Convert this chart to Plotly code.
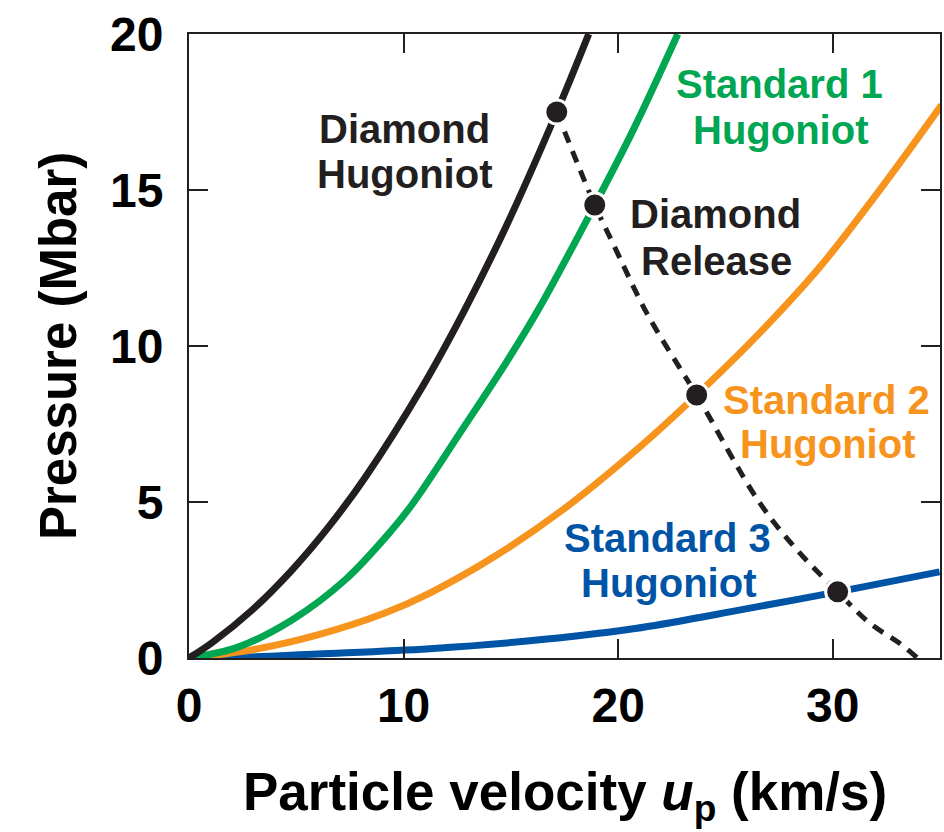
import plotly.graph_objects as go

# ---- data (up in km/s, P in Mbar) ----
dia_up = [0, 1.07, 2.93, 4.80, 6.47, 8.2, 10.9, 12.85, 14.81, 17.14, 18.63]
dia_P = [0, 0.49, 1.53, 2.82, 4.17, 5.78, 8.72, 11.16, 13.88, 17.5, 20.0]

std1_up = [0, 2.28, 4.8, 7.27, 9.45, 10.43, 12.76, 14.81, 16.35, 18.91, 20.7, 22.78]
std1_P = [0, 0.35, 1.22, 2.5, 4.10, 4.95, 7.35, 9.5, 11.25, 14.52, 16.92, 20.0]

std2_up = [0, 2.93, 6.0, 9.13, 11.22, 14.35, 17.42, 21.0, 23.66, 26.6, 29.4, 32.3, 35.07]
std2_P = [0, 0.26, 0.74, 1.44, 2.08, 3.3, 4.75, 6.76, 8.43, 10.42, 12.53, 15.1, 17.72]

std3_up = [0, 1.5, 6.0, 11.22, 15.88, 20.54, 23.8, 25.2, 30.23, 34.98]
std3_P = [0, 0.0, 0.13, 0.30, 0.55, 0.92, 1.30, 1.48, 2.12, 2.76]

rel_up = [17.14, 18.91, 19.75, 21.33, 22.87, 23.66, 26.6, 28.46, 30.23, 31.72, 33.1, 33.95]
rel_P = [17.5, 14.52, 13.3, 11.06, 9.3, 8.43, 4.97, 3.37, 2.12, 1.12, 0.48, 0.0]

pts_up = [17.14, 18.91, 23.66, 30.23]
pts_P = [17.5, 14.52, 8.43, 2.12]

x_ticks = [0, 10, 20, 30]
y_ticks = [0, 5, 10, 15, 20]

BLACK = "#231f20"
GREEN = "#00a651"
ORANGE = "#f7941d"
BLUE = "#0054a6"
FONT = "Liberation Sans, Arial, Helvetica, sans-serif"

fig = go.Figure()

def curve(x, y, color):
    fig.add_trace(go.Scatter(x=x, y=y, mode="lines",
                             line=dict(color=color, width=7, shape="spline", smoothing=1.0),
                             showlegend=False, hoverinfo="skip"))

curve(std3_up, std3_P, BLUE)
curve(std2_up, std2_P, ORANGE)
curve(std1_up, std1_P, GREEN)
curve(dia_up, dia_P, BLACK)

fig.add_trace(go.Scatter(x=rel_up, y=rel_P, mode="lines",
                         line=dict(color=BLACK, width=5, dash="12px,9px", shape="spline", smoothing=1.0),
                         showlegend=False, hoverinfo="skip"))

fig.add_trace(go.Scatter(x=pts_up, y=pts_P, mode="markers",
                         marker=dict(color=BLACK, size=24, line=dict(color="white", width=3)),
                         showlegend=False, hoverinfo="skip"))

labels = [
    ("Diamond", 10.02, 16.95, BLACK),
    ("Hugoniot", 10.07, 15.51, BLACK),
    ("Standard 1", 27.5, 18.41, GREEN),
    ("Hugoniot", 27.59, 16.92, GREEN),
    ("Diamond", 24.56, 14.23, BLACK),
    ("Release", 24.6, 12.72, BLACK),
    ("Standard 2", 29.73, 8.27, ORANGE),
    ("Hugoniot", 29.78, 6.86, ORANGE),
    ("Standard 3", 22.32, 3.85, BLUE),
    ("Hugoniot", 22.37, 2.40, BLUE),
]
for txt, x, y, c in labels:
    fig.add_annotation(x=x, y=y, xref="x", yref="y", text="<b>%s</b>" % txt,
                       showarrow=False, xanchor="center", yanchor="middle",
                       font=dict(family=FONT, size=40, color=c))

fig.add_annotation(x=-0.1744, y=0.5, xref="paper", yref="paper",
                   text="<b>Pressure (Mbar)</b>", textangle=-90, showarrow=False,
                   xanchor="center", yanchor="middle",
                   font=dict(family=FONT, size=51, color="black"))
fig.add_annotation(x=0.5007, y=-0.22, xref="paper", yref="paper",
                   text="<b>Particle velocity <i>u</i><sub>p</sub> (km/s)</b>", showarrow=False,
                   xanchor="center", yanchor="middle",
                   font=dict(family=FONT, size=53, color="black"))

axis_common = dict(showgrid=False, zeroline=False, showline=True, linecolor=BLACK, linewidth=2,
                   mirror="ticks", ticks="inside", ticklen=19, tickwidth=2, tickcolor=BLACK,
                   automargin=False,
                   tickfont=dict(family=FONT, size=48, color="black"))

fig.update_xaxes(range=[0, 35], tickvals=x_ticks, ticktext=["<b>%d</b>" % v for v in x_ticks],
                 ticklabelstandoff=4, **axis_common)
fig.update_yaxes(range=[0, 20], tickvals=y_ticks, ticktext=["<b>%d</b>" % v for v in y_ticks],
                 ticklabelstandoff=14, **axis_common)

fig.update_layout(width=944, height=832, margin=dict(l=189, r=4, t=34, b=174),
                  plot_bgcolor="white", paper_bgcolor="white")

fig.write_html("out.html", config={"displayModeBar": False},
               post_script="document.body.style.margin='0';document.body.style.overflow='hidden';")
